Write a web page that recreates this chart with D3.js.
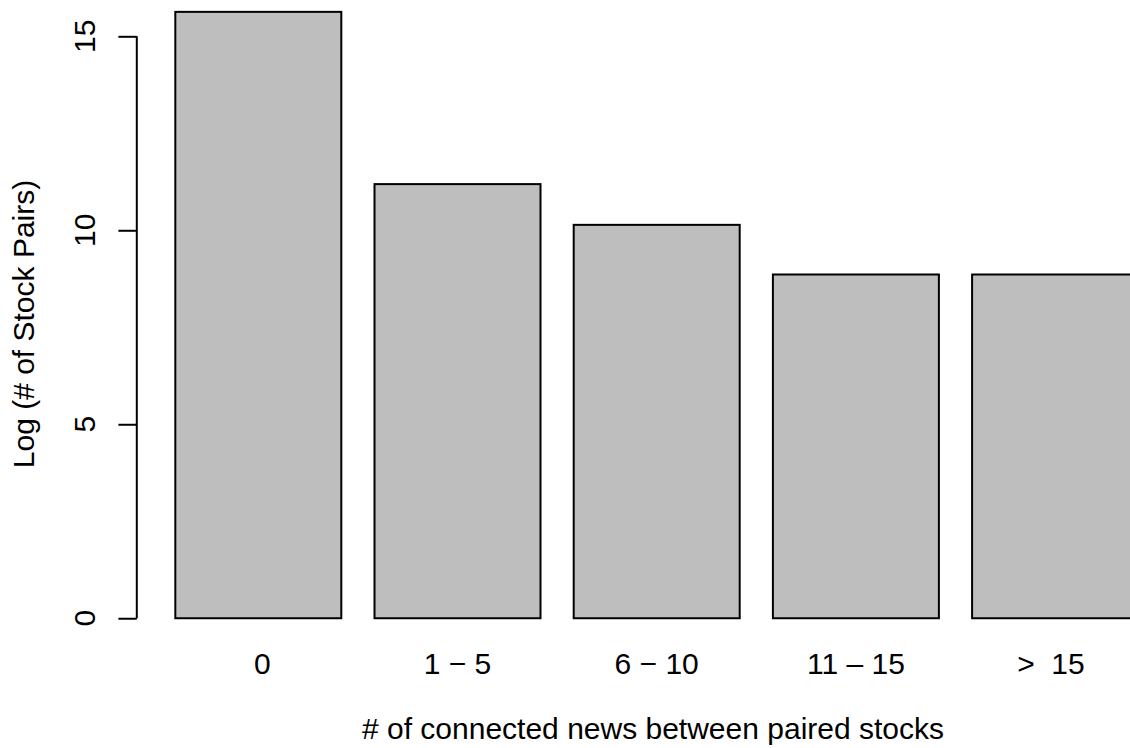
<!DOCTYPE html>
<html>
<head>
<meta charset="utf-8">
<script src="https://cdn.jsdelivr.net/npm/d3@7"></script>
<style>
  html, body { margin: 0; padding: 0; background: #ffffff; }
  svg { display: block; }
  text { font-family: "Liberation Sans", Arial, Helvetica, sans-serif; fill: #000; white-space: pre; }
</style>
</head>
<body>
<svg id="chart" width="1130" height="748"></svg>
<script>
// Counts of stock pairs (natural log) by number of connected news items
const categories = [" 0", "1 \u2212 5", "6 \u2212 10", "11 \u2013 15", ">  15 "];
const logPairs = [15.63, 11.19, 10.14, 8.86, 8.86];
const yTicks = [0, 5, 10, 15];
const xTitle = "# of connected news between paired stocks";
const yTitle = "Log (# of Stock Pairs)";

const svg = d3.select("#chart");

// barplot layout: width 1, space 0.2, axes padded by 4%
const barW = 1, space = 0.2;
const lefts = categories.map((_, i) => space + i * (barW + space));
const xMin = lefts[0], xMax = lefts[lefts.length - 1] + barW;
const xPad = (xMax - xMin) * 0.04;
const yMax = d3.max(logPairs);
const yPad = yMax * 0.04;

const plotLeft = 136.8, plotRight = 1176.6;
const plotBottom = 642.5, plotTop = -12.4;

const x = d3.scaleLinear().domain([xMin - xPad, xMax + xPad]).range([plotLeft, plotRight]);
const y = d3.scaleLinear().domain([-yPad, yMax + yPad]).range([plotBottom, plotTop]);

const fontSize = 30;

// bars
svg.append("g")
  .selectAll("rect")
  .data(logPairs)
  .join("rect")
  .attr("x", (d, i) => x(lefts[i]))
  .attr("width", (d, i) => x(lefts[i] + barW) - x(lefts[i]))
  .attr("y", d => y(d))
  .attr("height", d => y(0) - y(d))
  .attr("fill", "#bebebe")
  .attr("stroke", "#000")
  .attr("stroke-width", 2);

// category labels under the bars
svg.append("g")
  .selectAll("text")
  .data(categories)
  .join("text")
  .attr("x", (d, i) => x(lefts[i] + barW / 2))
  .attr("y", 674)
  .attr("text-anchor", "middle")
  .attr("font-size", fontSize)
  .text(d => d);

// y axis
const yAxis = d3.axisLeft(y)
  .tickValues(yTicks)
  .tickSize(18.4)
  .tickFormat("");
const gy = svg.append("g")
  .attr("transform", `translate(${plotLeft},0)`)
  .call(yAxis);
gy.select(".domain")
  .attr("d", `M0,${y(yTicks[0])}V${y(yTicks[yTicks.length - 1])}`)
  .attr("stroke", "#000")
  .attr("stroke-width", 2);
gy.selectAll(".tick line").attr("stroke", "#000").attr("stroke-width", 2);

// rotated y tick labels
svg.append("g")
  .selectAll("text")
  .data(yTicks)
  .join("text")
  .attr("transform", d => `translate(95,${y(d)}) rotate(-90)`)
  .attr("text-anchor", "middle")
  .attr("font-size", fontSize)
  .text(d => d);

// axis titles
svg.append("text")
  .attr("x", 653)
  .attr("y", 739)
  .attr("text-anchor", "middle")
  .attr("font-size", fontSize)
  .text(xTitle);

svg.append("text")
  .attr("transform", `translate(33.5,324) rotate(-90)`)
  .attr("text-anchor", "middle")
  .attr("font-size", fontSize)
  .text(yTitle);
</script>
</body>
</html>
